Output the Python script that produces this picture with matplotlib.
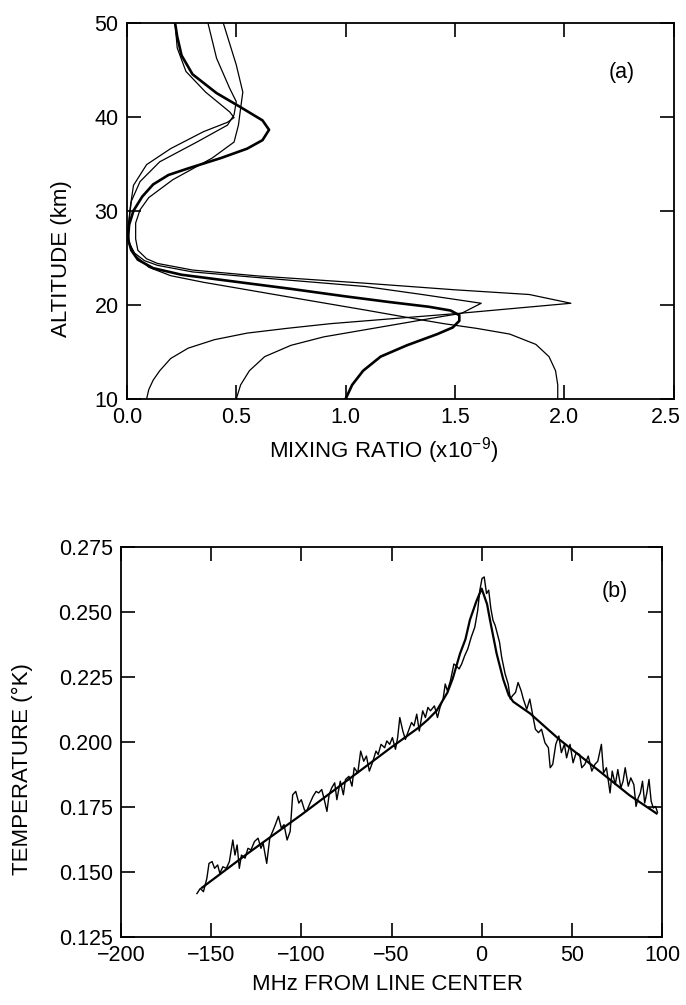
import numpy as np
import matplotlib
matplotlib.use("Agg")
import matplotlib.pyplot as plt
import matplotlib.transforms as mtransforms

plt.rcParams['font.family'] = ['Liberation Sans', 'DejaVu Sans']
plt.rcParams['mathtext.fontset'] = 'custom'
plt.rcParams['mathtext.rm'] = 'Liberation Sans'
plt.rcParams['mathtext.it'] = 'Liberation Sans'

# ---- panel (a): retrieved mixing ratio profiles (x1e-9) vs altitude (km)
# a priori 0.1
mix_a = [0.09, 0.10, 0.12, 0.15, 0.20, 0.28, 0.40, 0.55, 0.73, 0.93, 1.25, 1.52, 2.03, 1.84, 1.50, 1.09,
         0.60, 0.30, 0.14, 0.09, 0.05, 0.04, 0.04, 0.06, 0.10, 0.21, 0.39, 0.49, 0.51, 0.52, 0.53, 0.50, 0.44]
alt_a = [10.0, 11.0, 12.0, 13.0, 14.3, 15.4, 16.3, 17.0, 17.5, 18.0, 18.6, 19.1, 20.17, 21.1, 21.6, 22.3,
         23.07, 23.7, 24.4, 24.9, 25.8, 27.0, 28.7, 30.1, 31.4, 33.3, 35.6, 37.3, 39.1, 40.9, 42.6, 45.5, 50.0]
# a priori 0.5
mix_b = [0.50, 0.52, 0.56, 0.63, 0.75, 0.90, 1.10, 1.30, 1.45, 1.53, 1.62, 1.35, 1.09, 0.60, 0.30, 0.14,
         0.08, 0.035, 0.01, 0.005, 0.02, 0.06, 0.15, 0.32, 0.46, 0.49, 0.50, 0.47, 0.41, 0.37]
alt_b = [10.0, 11.5, 13.0, 14.5, 15.7, 16.6, 17.4, 18.2, 18.8, 19.1, 20.17, 21.1, 21.95, 22.9, 23.5, 24.2,
         24.7, 25.5, 26.6, 28.0, 31.0, 33.1, 35.2, 37.3, 39.1, 40.2, 41.6, 43.0, 46.2, 50.0]
# a priori 1.0 (heavy line)
mix_c = [1.00, 1.03, 1.08, 1.16, 1.28, 1.42, 1.49, 1.52, 1.52, 1.48, 1.38, 1.20, 1.00, 0.75, 0.45, 0.25,
         0.12, 0.05, 0.02, 0.005, 0.01, 0.03, 0.07, 0.12, 0.19, 0.28, 0.43, 0.55, 0.62, 0.65, 0.62, 0.52,
         0.41, 0.30, 0.25, 0.23, 0.22]
alt_c = [10.0, 11.5, 13.0, 14.5, 15.7, 16.9, 17.6, 18.3, 18.9, 19.4, 19.8, 20.3, 20.9, 21.7, 22.6, 23.2,
         23.9, 24.8, 25.8, 27.0, 28.5, 30.0, 31.5, 32.8, 33.8, 34.5, 35.6, 36.6, 37.5, 38.6, 39.6, 41.0,
         42.5, 44.5, 46.5, 48.5, 50.0]
# a priori 2.0
mix_d = [1.97, 1.97, 1.96, 1.93, 1.87, 1.75, 1.60, 1.45, 1.31, 1.09, 0.80, 0.60, 0.35, 0.20, 0.10, 0.04,
         0.01, 0.005, 0.015, 0.03, 0.09, 0.20, 0.35, 0.46, 0.49, 0.47, 0.36, 0.27, 0.23, 0.22]
alt_d = [10.0, 11.5, 13.0, 14.5, 15.8, 16.9, 17.5, 18.0, 18.55, 19.45, 20.6, 21.4, 22.4, 23.1, 24.0, 25.2,
         26.5, 28.0, 30.3, 32.7, 34.9, 36.6, 38.4, 39.4, 39.9, 40.5, 42.6, 44.8, 47.3, 50.0]

# ---- panel (b): measured spectrum and fitted line, temperature (K) vs MHz from line center
freq_obs = [-157.9, -156.0, -154.3, -152.4, -151.2, -149.5, -148.1, -146.4, -145.2, -143.5, -141.6, -139.9,
            -138.0, -136.8, -135.6, -134.4, -133.2, -131.2, -129.6, -127.9, -126.0, -124.0, -122.4, -121.2,
            -119.2, -117.5, -115.9, -114.4, -112.7, -111.1, -109.6, -107.9, -106.2, -104.8, -103.1, -101.4,
            -100.0, -98.3, -97.1, -95.2, -93.5, -91.8, -90.4, -88.7, -87.5, -85.8, -84.6, -83.2, -81.5,
            -80.3, -78.4, -76.7, -75.5, -73.6, -71.9, -70.7, -68.7, -67.1, -65.4, -63.9, -62.3, -60.6,
            -58.6, -57.4, -55.8, -53.8, -52.6, -51.0, -49.5, -47.8, -46.6, -45.4, -43.7, -42.3, -40.6,
            -38.9, -37.5, -36.0, -34.6, -32.7, -31.2, -29.8, -28.4, -26.2, -24.5, -23.1, -21.4, -20.2,
            -19.0, -17.3, -15.4, -14.2, -12.5, -11.1, -9.4, -7.7, -5.8, -3.8, -2.2, -1.0, 0.2, 1.4, 2.7,
            3.9, 5.1, 6.3, 7.5, 8.7, 9.9, 11.1, 13.0, 14.7, 15.9, 17.1, 18.8, 20.2, 21.9, 23.1, 25.0, 26.7,
            28.4, 29.8, 31.5, 33.2, 35.1, 37.0, 38.0, 39.4, 41.1, 42.8, 44.2, 45.9, 47.1, 49.0, 50.7, 52.4,
            54.3, 55.5, 57.2, 59.1, 61.1, 62.8, 64.4, 66.4, 67.6, 69.2, 71.2, 72.4, 74.1, 75.5, 77.2, 78.4,
            79.6, 81.3, 82.7, 84.4, 85.6, 86.8, 88.0, 89.2, 90.4, 91.6, 92.8, 94.0, 95.2, 96.4, 97.5]
temp_obs = [0.1417, 0.1437, 0.1424, 0.1475, 0.1533, 0.1540, 0.1514, 0.1527, 0.1495, 0.1520, 0.1514, 0.1540,
            0.1623, 0.1565, 0.1604, 0.1514, 0.1565, 0.1553, 0.1591, 0.1585, 0.1617, 0.1630, 0.1591, 0.1611,
            0.1533, 0.1630, 0.1656, 0.1682, 0.1714, 0.1669, 0.1682, 0.1623, 0.1656, 0.1797, 0.1810, 0.1765,
            0.1778, 0.1739, 0.1733, 0.1765, 0.1791, 0.1810, 0.1804, 0.1817, 0.1785, 0.1733, 0.1797, 0.1823,
            0.1843, 0.1778, 0.1849, 0.1797, 0.1856, 0.1868, 0.1830, 0.1901, 0.1881, 0.1965, 0.1926, 0.1946,
            0.1888, 0.1920, 0.1965, 0.1952, 0.1991, 0.1978, 0.2004, 0.1991, 0.2017, 0.1972, 0.2017, 0.2094,
            0.2042, 0.2010, 0.2042, 0.2075, 0.2062, 0.2107, 0.2042, 0.2120, 0.2094, 0.2133, 0.2120, 0.2139,
            0.2094, 0.2133, 0.2165, 0.2223, 0.2197, 0.2236, 0.2300, 0.2294, 0.2281, 0.2300, 0.2332, 0.2358,
            0.2403, 0.2442, 0.2506, 0.2584, 0.2629, 0.2635, 0.2571, 0.2584, 0.2513, 0.2468, 0.2448, 0.2416,
            0.2384, 0.2326, 0.2262, 0.2223, 0.2165, 0.2178, 0.2191, 0.2229, 0.2197, 0.2165, 0.2126, 0.2165,
            0.2100, 0.2049, 0.2036, 0.2049, 0.1997, 0.1978, 0.1901, 0.1914, 0.1991, 0.2023, 0.1959, 0.1991,
            0.1939, 0.1991, 0.1920, 0.1959, 0.1952, 0.1901, 0.1914, 0.1946, 0.1888, 0.1914, 0.1926, 0.1991,
            0.1881, 0.1901, 0.1804, 0.1888, 0.1836, 0.1894, 0.1823, 0.1849, 0.1901, 0.1830, 0.1862, 0.1836,
            0.1752, 0.1785, 0.1804, 0.1849, 0.1765, 0.1804, 0.1856, 0.1772, 0.1746, 0.1752, 0.1730]
freq_fit = [-155, -130, -100, -75, -50, -35, -30, -25, -22, -19, -16, -12, -9, -6.5, -3, 0, 3, 4.6, 8.3,
            12, 15, 17.5, 26.8, 43, 64, 82, 97]
temp_fit = [0.144, 0.157, 0.172, 0.185, 0.198, 0.2055, 0.2085, 0.212, 0.2155, 0.219, 0.2245, 0.234,
            0.2395, 0.247, 0.254, 0.259, 0.253, 0.247, 0.234, 0.224, 0.218, 0.2155, 0.211, 0.201, 0.1895,
            0.1795, 0.1725]

FS_TICK = 15.5
FS_LAB = 16

fig = plt.figure(figsize=(6.86, 10.05), dpi=100)

# top panel
ax1 = fig.add_axes([0.185, 0.603, 0.797, 0.3746])
ax1.plot(mix_a, alt_a, color='black', lw=0.9)
ax1.plot(mix_b, alt_b, color='black', lw=0.9)
ax1.plot(mix_d, alt_d, color='black', lw=0.9)
ax1.plot(mix_c, alt_c, color='black', lw=1.9)
ax1.set_xlim(0, 2.5)
ax1.set_ylim(10, 50)
ax1.set_xticks([0.0, 0.5, 1.0, 1.5, 2.0, 2.5])
ax1.set_xticklabels(['0.0', '0.5', '1.0', '1.5', '2.0', '2.5'])
ax1.set_yticks([10, 20, 30, 40, 50])
ax1.set_xlabel('MIXING RATIO (x10$^{-9}$)', fontsize=FS_LAB)
ax1.xaxis.set_label_coords(0.47, -0.095)
ax1.set_ylabel('ALTITUDE (km)', fontsize=FS_LAB)
ax1.yaxis.set_label_coords(-0.10, 0.372)
ax1.text(0.905, 0.866, '(a)', transform=ax1.transAxes, fontsize=FS_TICK, ha='center', va='center')

# bottom panel
ax2 = fig.add_axes([0.1764, 0.0677, 0.7886, 0.388])
ax2.plot(freq_obs, temp_obs, color='black', lw=1.0)
ax2.plot(freq_fit, temp_fit, color='black', lw=1.6)
ax2.set_xlim(-200, 100)
ax2.set_ylim(0.125, 0.275)
ax2.set_xticks([-200, -150, -100, -50, 0, 50, 100])
ax2.set_xticklabels(['\u2212200', '\u2212150', '\u2212100', '\u221250', '0', '50', '100'])
ax2.set_yticks([0.125, 0.150, 0.175, 0.200, 0.225, 0.250, 0.275])
ax2.set_yticklabels(['0.125', '0.150', '0.175', '0.200', '0.225', '0.250', '0.275'])
ax2.set_xlabel('MHz FROM LINE CENTER', fontsize=FS_LAB)
ax2.xaxis.set_label_coords(0.493, -0.095)
ax2.set_ylabel('TEMPERATURE (\u00b0K)', fontsize=FS_LAB)
ax2.yaxis.set_label_coords(-0.163, 0.43)
ax2.text(0.913, 0.885, '(b)', transform=ax2.transAxes, fontsize=FS_TICK, ha='center', va='center')

for ax in (ax1, ax2):
    for sp in ax.spines.values():
        sp.set_linewidth(1.3)
    ax.tick_params(direction='in', length=10, width=1.2, top=True, right=True,
                   labelsize=FS_TICK, pad=6)

# last x label of panel (a) sits at the figure edge, nudge it left a little
shift = mtransforms.ScaledTranslation(-6 / 72, 0, fig.dpi_scale_trans)
lbl = ax1.get_xticklabels()[-1]
lbl.set_transform(lbl.get_transform() + shift)

fig.savefig('out.png', dpi=100)
